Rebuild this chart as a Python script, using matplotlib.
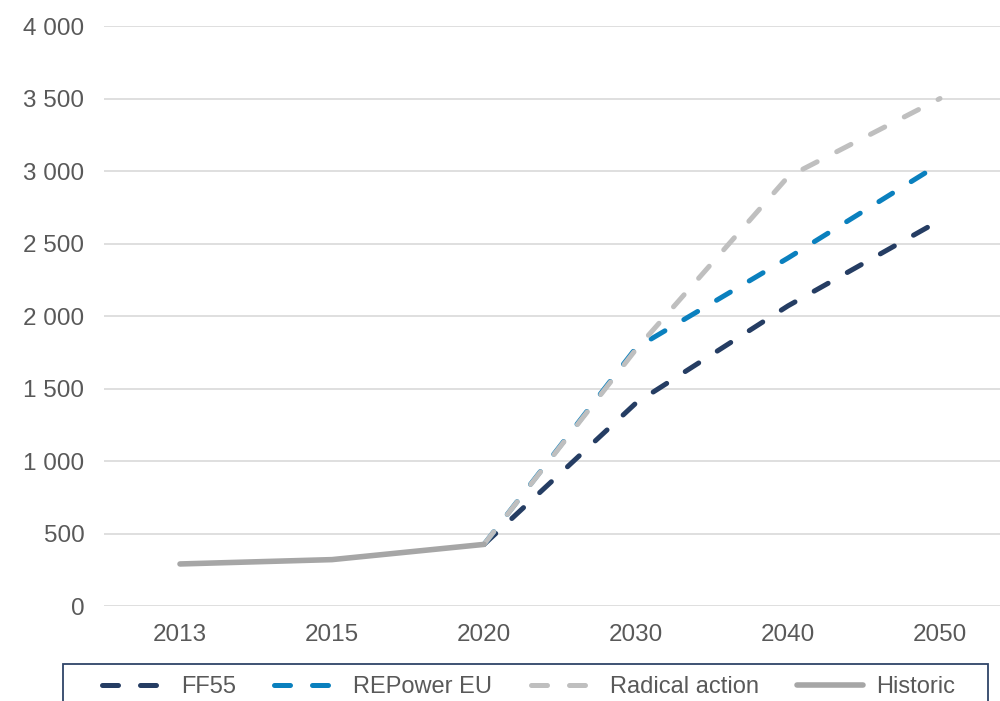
import matplotlib.pyplot as plt
from matplotlib.patches import Rectangle
from matplotlib.ticker import FuncFormatter

plt.rcParams['font.family'] = ['Liberation Sans', 'DejaVu Sans']

years = ['2013', '2015', '2020', '2030', '2040', '2050']

# historic values stop at 2020, scenarios start there
historic = [290, 320, 425]
ff55 = [425, 1400, 2070, 2660]
repower = [425, 1780, 2400, 3050]
radical = [425, 1770, 2960, 3500]

c_ff55 = '#253D63'
c_repower = '#0A80BE'
c_radical = '#BFBFBF'
c_historic = '#A6A6A6'

fig = plt.figure(figsize=(10, 7.01), dpi=100)
ax = fig.add_axes([0.104, 0.1355, 0.912, 0.8274])

x_hist = list(range(len(historic)))
x_scen = list(range(2, len(years)))

lw = 3.6
dash = (3.2, 4.4)
ax.plot(x_scen, ff55, color=c_ff55, lw=lw, dashes=dash, dash_capstyle='round', label='FF55', zorder=3)
ax.plot(x_scen, repower, color=c_repower, lw=lw, dashes=dash, dash_capstyle='round', label='REPower EU', zorder=3)
ax.plot(x_scen, radical, color=c_radical, lw=lw, dashes=dash, dash_capstyle='round', label='Radical action', zorder=3)
ax.plot(x_hist, historic, color=c_historic, lw=4.0, solid_capstyle='round', solid_joinstyle='round',
        label='Historic', zorder=4)

ax.set_xlim(-0.5, len(years) - 0.5)
ax.set_ylim(0, 4000)
ax.set_yticks(range(0, 4001, 500))
ax.yaxis.set_major_formatter(FuncFormatter(lambda v, p: '{:,.0f}'.format(v).replace(',', ' ')))
ax.set_xticks(range(len(years)))
ax.set_xticklabels(years)

ax.grid(axis='y', color='#D9D9D9', lw=1.2)
ax.set_axisbelow(True)
for s in ax.spines.values():
    s.set_visible(False)
ax.tick_params(axis='both', length=0, labelsize=17.5, colors='#595959')
ax.tick_params(axis='y', pad=14.2)
ax.tick_params(axis='x', pad=13)

# legend strip along the bottom
fig.patches.append(Rectangle((0.063, -0.05), 0.925, 1 - 664 / 701 + 0.05, transform=fig.transFigure,
                             fill=False, edgecolor='#2F4468', lw=1.3))
fig.legend(loc='center left', bbox_to_anchor=(0.102, 1 - 687 / 701), ncol=4, frameon=False,
           fontsize=17, handlelength=2.8, handletextpad=0.55, columnspacing=1.62,
           borderpad=0, borderaxespad=0, labelcolor='#595959')

plt.savefig('out.png', dpi=100)
